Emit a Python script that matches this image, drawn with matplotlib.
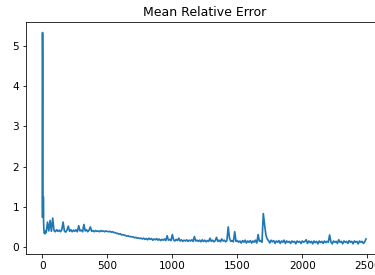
import numpy as np
import matplotlib
matplotlib.use('Agg')
import matplotlib.pyplot as plt

# first iterations (fine resolution, big start-up spike)
head_iter = [0, 1, 2, 3, 4, 5, 6, 7, 8, 9, 10, 12, 14, 16, 18, 20, 22, 24, 26, 28]
head_err = [0.75, 2.5, 5.33, 4.7, 1.0, 0.8, 1.1, 0.75, 1.25, 0.9,
            0.6, 0.45, 0.38, 0.34, 0.36, 0.33, 0.38, 0.35, 0.40, 0.37]

# rest of the run, one value every 10 iterations from 30 to 2490
body_err = [
    0.36, 0.62, 0.40, 0.66, 0.39, 0.72, 0.41,                     # 30-90
    0.38, 0.43, 0.39, 0.42, 0.38, 0.43, 0.62, 0.40, 0.37, 0.42,   # 100
    0.52, 0.39, 0.43, 0.38, 0.42, 0.39, 0.43, 0.38, 0.53, 0.40,   # 200
    0.42, 0.38, 0.56, 0.40, 0.43, 0.38, 0.42, 0.50, 0.39, 0.41,   # 300
    0.38, 0.41, 0.39, 0.40, 0.38, 0.41, 0.39, 0.40, 0.38, 0.40,   # 400
    0.39, 0.38, 0.39, 0.37, 0.38, 0.36, 0.36, 0.34, 0.34, 0.32,   # 500
    0.33, 0.30, 0.31, 0.29, 0.29, 0.27, 0.28, 0.26, 0.26, 0.25,   # 600
    0.25, 0.23, 0.24, 0.22, 0.23, 0.21, 0.22, 0.20, 0.22, 0.19,   # 700
    0.21, 0.18, 0.22, 0.19, 0.21, 0.17, 0.20, 0.18, 0.21, 0.17,   # 800
    0.20, 0.16, 0.19, 0.17, 0.20, 0.16, 0.28, 0.17, 0.19, 0.16,   # 900
    0.31, 0.18, 0.15, 0.19, 0.16, 0.22, 0.15, 0.18, 0.14, 0.17,   # 1000
    0.15, 0.18, 0.14, 0.17, 0.15, 0.18, 0.14, 0.26, 0.15, 0.17,   # 1100
    0.14, 0.17, 0.13, 0.18, 0.14, 0.17, 0.13, 0.16, 0.14, 0.22,   # 1200
    0.14, 0.17, 0.13, 0.16, 0.24, 0.14, 0.17, 0.13, 0.20, 0.15,   # 1300
    0.17, 0.13, 0.16, 0.50, 0.22, 0.14, 0.16, 0.13, 0.38, 0.14,   # 1400
    0.16, 0.12, 0.15, 0.10, 0.16, 0.12, 0.17, 0.10, 0.15, 0.12,   # 1500
    0.16, 0.10, 0.15, 0.12, 0.17, 0.10, 0.31, 0.14, 0.16, 0.12,   # 1600
    0.83, 0.55, 0.30, 0.20, 0.16, 0.10, 0.17, 0.13, 0.16, 0.09,   # 1700
    0.15, 0.12, 0.16, 0.09, 0.15, 0.12, 0.17, 0.09, 0.15, 0.12,   # 1800
    0.14, 0.09, 0.15, 0.12, 0.14, 0.08, 0.15, 0.12, 0.14, 0.09,   # 1900
    0.15, 0.12, 0.14, 0.18, 0.09, 0.15, 0.11, 0.14, 0.08, 0.15,   # 2000
    0.11, 0.14, 0.08, 0.15, 0.11, 0.14, 0.09, 0.15, 0.11, 0.14,   # 2100
    0.12, 0.30, 0.13, 0.08, 0.15, 0.12, 0.14, 0.09, 0.18, 0.12,   # 2200
    0.14, 0.08, 0.15, 0.12, 0.14, 0.09, 0.16, 0.12, 0.14, 0.08,   # 2300
    0.15, 0.12, 0.14, 0.08, 0.15, 0.12, 0.14, 0.09, 0.13, 0.20,   # 2400
]

iters = np.concatenate([head_iter, np.arange(30, 30 + 10 * len(body_err), 10)])
err = np.concatenate([head_err, body_err])

fig = plt.figure(figsize=(375 / 72, 275 / 72), dpi=72)
# axes run past the right edge, the original picture is cut off there
ax = fig.add_axes([0.0696, 0.075, 0.9496, 0.845])
ax.plot(iters, err, color='#1f77b4', linewidth=1.7)
ax.set_title('Mean Relative Error', fontsize=12.5)
ax.tick_params(labelsize=10.5)

plt.savefig('out.png', dpi=72)
